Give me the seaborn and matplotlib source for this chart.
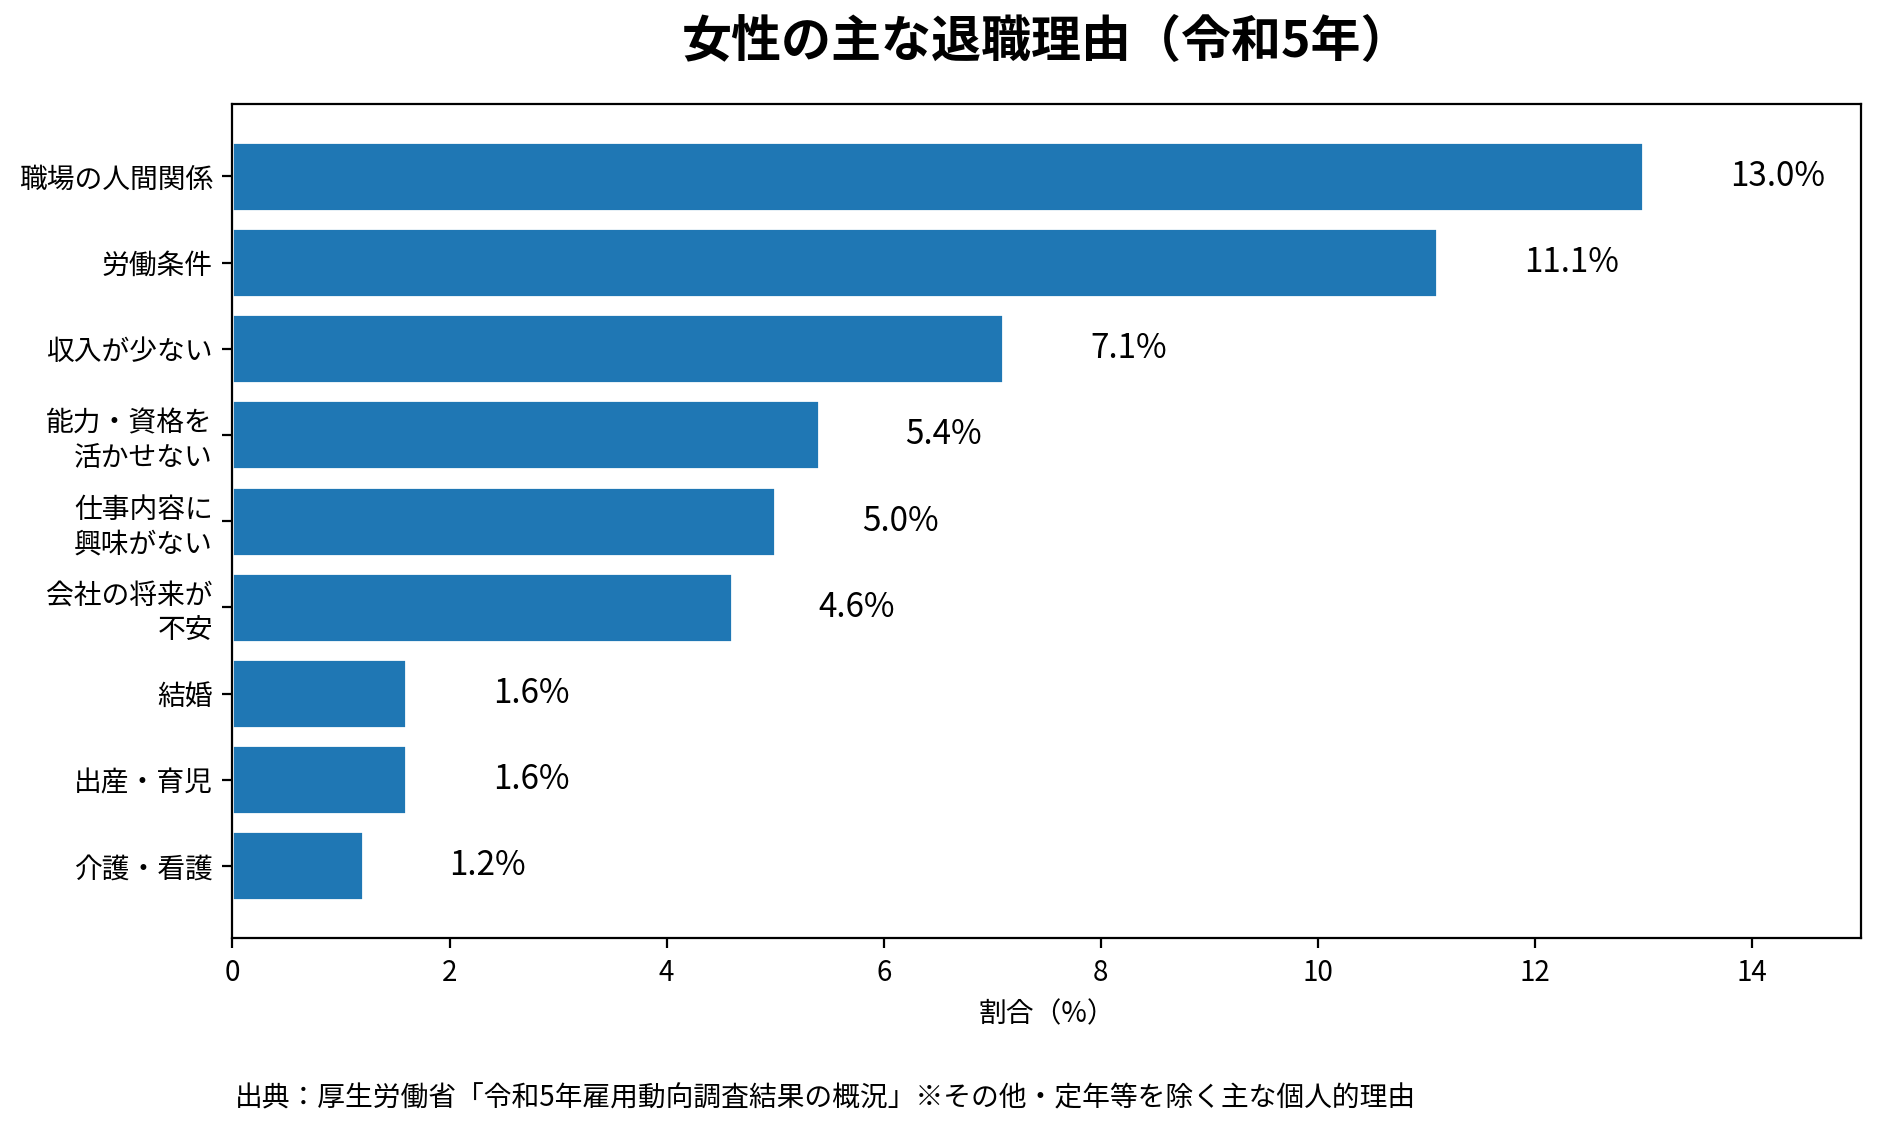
import matplotlib
matplotlib.use("Agg")
import matplotlib.pyplot as plt
import seaborn as sns
import pandas as pd

# データ（令和5年 雇用動向調査）
reasons = ["職場の人間関係", "労働条件", "収入が少ない", "能力・資格を\n活かせない",
           "仕事内容に\n興味がない", "会社の将来が\n不安", "結婚", "出産・育児", "介護・看護"]
ratios = [13.0, 11.1, 7.1, 5.4, 5.0, 4.6, 1.6, 1.6, 1.2]

title = "女性の主な退職理由（令和5年）"
xlabel = "割合（%）"
source = "出典：厚生労働省「令和5年雇用動向調査結果の概況」※その他・定年等を除く主な個人的理由"

df = pd.DataFrame({"理由": reasons, "割合": ratios})

sns.set_theme(style="ticks")
plt.rcParams['font.family'] = ['Noto Sans CJK JP', 'DejaVu Sans']
plt.rcParams['axes.edgecolor'] = 'black'
plt.rcParams['text.color'] = 'black'
plt.rcParams['axes.labelcolor'] = 'black'
plt.rcParams['xtick.color'] = 'black'
plt.rcParams['ytick.color'] = 'black'
plt.rcParams['xtick.major.size'] = 3.5
plt.rcParams['ytick.major.size'] = 3.5
plt.rcParams['xtick.major.width'] = 0.8
plt.rcParams['ytick.major.width'] = 0.8

fig = plt.figure(figsize=(9.395, 5.65), dpi=200)
ax = fig.add_axes([0.1237, 0.1696, 0.8665, 0.7384])

sns.barplot(data=df, x="割合", y="理由", color="#1f77b4", saturation=1,
            width=0.8, ax=ax, orient="h")

n = len(reasons)
ax.set_ylim(n - 1 + 0.84, -0.84)
ax.set_xlim(0, 15)

# 値ラベル
for i, v in enumerate(ratios):
    ax.text(v + 0.8, i, f"{v:.1f}%", ha='left', va='center', fontsize=12, color='black')

ax.set_title(title, fontsize=18, fontweight='bold', pad=17, color='black')
ax.set_xlabel(xlabel, fontsize=10)
ax.set_ylabel("")
ax.tick_params(axis='both', labelsize=10)
for s in ax.spines.values():
    s.set_visible(True)
    s.set_linewidth(0.8)

fig.text(0.125, 0.028, source, ha='left', va='center', fontsize=10)

fig.savefig("out.png", dpi=200)
